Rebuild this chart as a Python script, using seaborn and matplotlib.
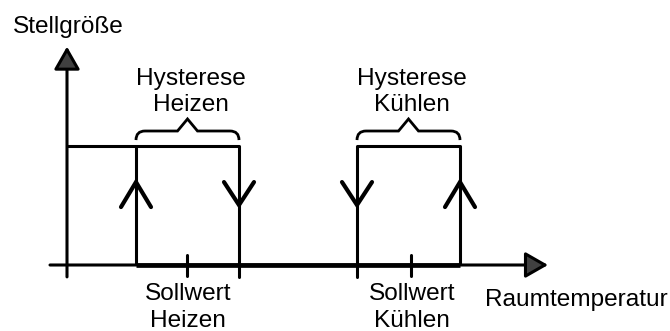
"""Zweipunktregler mit Hysterese: Stellgröße über Raumtemperatur (Heizen / Kühlen)."""

import matplotlib
matplotlib.use("Agg")
import matplotlib.pyplot as plt
from matplotlib.path import Path
from matplotlib.patches import PathPatch
import pandas as pd
import seaborn as sns

# --- Daten (Temperaturachse in Diagrammeinheiten, Stellgröße 0 = aus, 1 = ein) ---
T_ORIGIN = 67
T_AXIS_START = 50
T_AXIS_END = 548
HEAT_SWITCH = [136, 239]          # Heizen ein / Heizen aus
COOL_SWITCH = [357, 460]          # Kühlen aus / Kühlen ein
SETPOINTS = [187, 411]            # Sollwert Heizen / Sollwert Kühlen
LEVELS = [0, 1]                   # Stellgröße aus / ein
Y_AXIS_END = 1.835

SETPOINT_LABELS = [["Sollwert", "Heizen"], ["Sollwert", "Kühlen"]]
HYST_LABELS = [["Hysterese", "Heizen"], ["Hysterese", "Kühlen"]]
X_LABEL = "Raumtemperatur"
Y_LABEL = "Stellgröße"

sns.set_theme(style="white")
plt.rcParams["font.family"] = ["Liberation Sans", "DejaVu Sans"]
plt.rcParams["text.color"] = "black"
FS = 17.6

fig = plt.figure(figsize=(6.7, 3.31), dpi=100)
ax = fig.add_axes([0, 0, 1, 1])
ax.set_xlim(0, 670)
ax.set_ylim(-66 / 119, 265 / 119)
ax.axis("off")

off, on = LEVELS
LW = 2.2

# --- Achsen mit Pfeilspitzen ---
arrow = dict(arrowstyle="-|>,head_length=1.4,head_width=0.8", lw=LW,
             fc="#404040", ec="black", shrinkA=0, shrinkB=0, mutation_scale=10)
ax.annotate("", xy=(T_AXIS_END, off), xytext=(T_AXIS_START, off), arrowprops=arrow)
ax.annotate("", xy=(T_ORIGIN, Y_AXIS_END), xytext=(T_ORIGIN, -0.1), arrowprops=arrow)

# --- Kennlinien ---
lines = pd.DataFrame({
    "t": [T_ORIGIN, HEAT_SWITCH[1], COOL_SWITCH[0], COOL_SWITCH[1]],
    "u": [on, on, on, on],
    "seg": ["heat", "heat", "cool", "cool"],
})
sns.lineplot(data=lines, x="t", y="u", units="seg", estimator=None, sort=False,
             color="black", lw=LW, ax=ax, legend=False)

for t in HEAT_SWITCH + COOL_SWITCH:
    ax.plot([t, t], [off, on], color="black", lw=LW, solid_capstyle="butt")
# Abschnitte unterhalb der Achse (Schaltpunkte Heizen aus / Kühlen aus)
for t in [HEAT_SWITCH[1], COOL_SWITCH[0]]:
    ax.plot([t, t], [-0.1, off], color="black", lw=LW)
# Stellgröße aus: dicke Linie zwischen den Schaltpunkten
ax.plot([HEAT_SWITCH[0], COOL_SWITCH[1]], [off, off], color="black", lw=3.4,
        solid_capstyle="butt")
# Sollwert-Markierungen
for t in SETPOINTS:
    ax.plot([t, t], [-0.09, 0.085], color="black", lw=LW)

# --- Richtungspfeile (Winkel) ---
def chevron(t, up):
    tip, wing = (0.697, 0.487) if up else (0.504, 0.697)
    ax.plot([t - 15, t, t + 15], [wing, tip, wing], color="black", lw=3.0,
            solid_capstyle="round", solid_joinstyle="miter")

chevron(HEAT_SWITCH[0], True)
chevron(HEAT_SWITCH[1], False)
chevron(COOL_SWITCH[0], False)
chevron(COOL_SWITCH[1], True)

# --- Geschweifte Klammern über den Hysteresebereichen ---
def brace(x0, x1):
    y_end, y_flat, y_peak = 1.050, 1.126, 1.227
    mid = (x0 + x1) / 2
    r = 9
    verts = [(x0, y_end), (x0, y_flat), (x0 + r, y_flat),
             (mid - 10, y_flat), (mid, y_peak), (mid + 10, y_flat),
             (x1 - r, y_flat), (x1, y_flat), (x1, y_end)]
    codes = [Path.MOVETO, Path.CURVE3, Path.CURVE3,
             Path.LINETO, Path.LINETO, Path.LINETO,
             Path.LINETO, Path.CURVE3, Path.CURVE3]
    ax.add_patch(PathPatch(Path(verts, codes), fill=False, lw=2.0, ec="black"))

for (a, b), (l1, l2) in zip([HEAT_SWITCH, COOL_SWITCH], HYST_LABELS):
    brace(a, b)
    cx = (a + b) / 2 + 3
    ax.text(cx, 1.513, l1, ha="center", va="baseline", fontsize=FS)
    ax.text(cx, 1.294, l2, ha="center", va="baseline", fontsize=FS)

# --- Beschriftungen ---
for t, (l1, l2) in zip(SETPOINTS, SETPOINT_LABELS):
    ax.text(t + 1, -0.294, l1, ha="center", va="baseline", fontsize=FS)
    ax.text(t + 1, -0.525, l2, ha="center", va="baseline", fontsize=FS)

ax.text(485, -0.345, X_LABEL, ha="left", va="baseline", fontsize=FS)
ax.text(13, 1.95, Y_LABEL, ha="left", va="baseline", fontsize=FS)

fig.savefig("out.png", dpi=100)
